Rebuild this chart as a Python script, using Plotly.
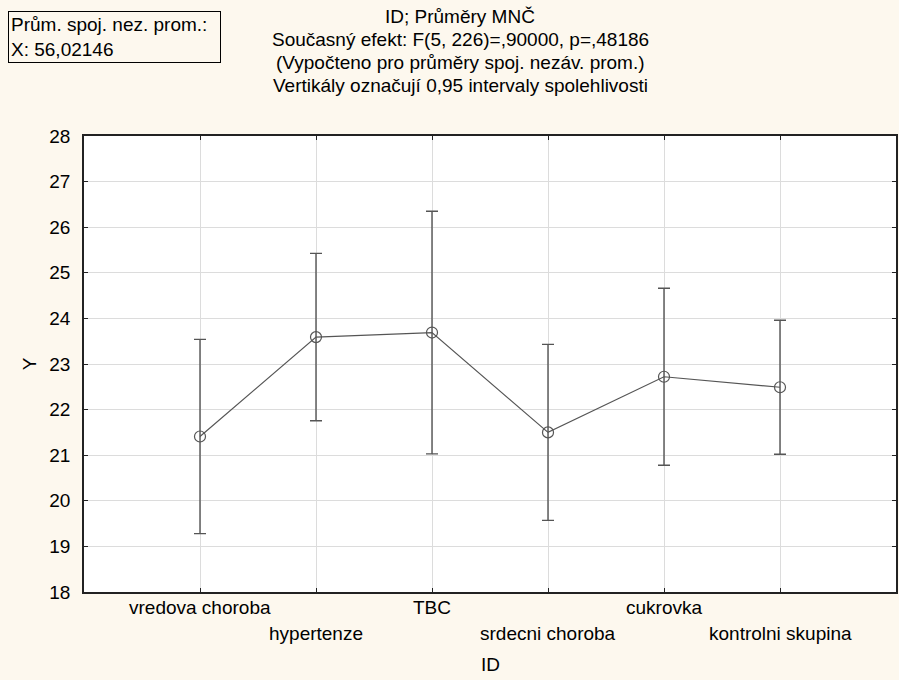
import plotly.graph_objects as go

categories = ["vredova choroba", "hypertenze", "TBC", "srdecni choroba", "cukrovka", "kontrolni skupina"]
means = [21.41, 23.59, 23.69, 21.50, 22.72, 22.49]
ci_half = [2.13, 1.835, 2.66, 1.93, 1.94, 1.47]
y_ticks = [18, 19, 20, 21, 22, 23, 24, 25, 26, 27, 28]
title_lines = ["ID; Průměry MNČ",
               "Současný efekt: F(5, 226)=,90000, p=,48186",
               "(Vypočteno pro průměry spoj. nezáv. prom.)",
               "Vertikály označují 0,95 intervaly spolehlivosti"]
box_text = "Prům. spoj. nez. prom.:<br>X: 56,02146"

xpos = list(range(len(categories)))
FONT = "Liberation Sans, Arial, sans-serif"
FS = 19
BG = "#fdf8ee"
DARK = "#555555"
W, H = 899, 680
ML, MR, MT, MB = 84, 1, 136, 88
PW = W - ML - MR


def px_to_paper_x(px):
    return (px - ML) / PW


fig = go.Figure()
fig.add_trace(go.Scatter(
    x=xpos, y=means, mode="lines+markers",
    line=dict(color=DARK, width=1.2),
    marker=dict(symbol="circle-open", size=11, color=DARK, line=dict(width=1.2, color=DARK)),
    error_y=dict(type="data", array=ci_half, visible=True, color=DARK, thickness=1.4, width=6),
    showlegend=False, hoverinfo="skip"))

fig.update_layout(
    width=W, height=H,
    margin=dict(l=ML, r=MR, t=MT, b=MB),
    paper_bgcolor=BG, plot_bgcolor="white",
    font=dict(family=FONT, size=FS, color="black"),
)
fig.update_xaxes(
    range=[-1, 6], tickvals=xpos, ticktext=[""] * len(xpos),
    showgrid=True, gridcolor="#dcdcdc", gridwidth=1,
    showline=True, linecolor="#222222", linewidth=1.5, mirror="ticks",
    ticks="inside", ticklen=4, tickcolor="#222222", zeroline=False,
)
fig.update_yaxes(
    range=[18, 28], tickvals=y_ticks,
    showgrid=True, gridcolor="#dcdcdc", gridwidth=1,
    showline=True, linecolor="#222222", linewidth=1.5, mirror="ticks",
    ticks="inside", ticklen=4, tickcolor="#222222", zeroline=False,
    ticklabelstandoff=8,
    title=dict(text="Y", standoff=8, font=dict(size=FS)),
)

# alternating category labels below the axis
for i, cat in enumerate(categories):
    fig.add_annotation(x=xpos[i], y=0, xref="x", yref="paper", text=cat,
                       showarrow=False, xanchor="center", yanchor="middle",
                       yshift=-15 if i % 2 == 0 else -41, font=dict(size=FS))
fig.add_annotation(x=0.5, y=0, xref="paper", yref="paper", text="ID",
                   showarrow=False, xanchor="center", yanchor="middle", yshift=-72,
                   font=dict(size=FS))

# title lines
for j, line in enumerate(title_lines):
    fig.add_annotation(x=px_to_paper_x(461), y=1, xref="paper", yref="paper", text=line,
                       showarrow=False, xanchor="center", yanchor="middle",
                       yshift=MT - (16 + 23.3 * j),
                       font=dict(size=FS))

fig.add_annotation(x=px_to_paper_x(8), y=1, xref="paper", yref="paper", text=box_text,
                   showarrow=False, xanchor="left", yanchor="top", align="left",
                   yshift=MT - 11, bordercolor="black", borderwidth=1, borderpad=2,
                   bgcolor=BG, width=207, font=dict(size=FS))

fig.write_html("out.html")
